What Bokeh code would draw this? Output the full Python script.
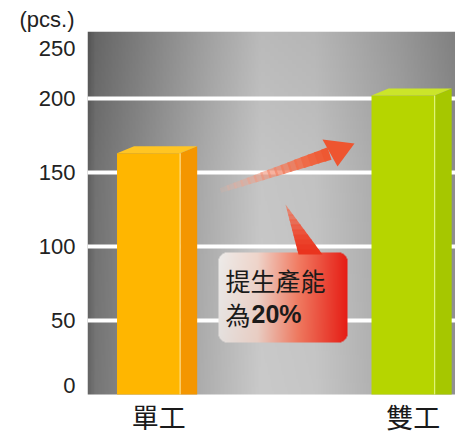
import numpy as np
from bokeh.plotting import figure
from bokeh.models import Range1d, FixedTicker
from bokeh.core.properties import value
from bokeh.embed import file_html
from bokeh.resources import INLINE

# ---- data ----
categories = ["單工", "雙工"]
output_pcs = [163, 202]
y_ticks = [0, 50, 100, 150, 200, 250]
y_tick_labels = ["0", "50", "100", "150", "200", "250"]
unit_label = "(pcs.)"
callout_lines = ["提生產能", "為20%"]

# ---- layout helpers (canvas pixel -> data) ----
CW, CH = 455, 436
FL, FR, FT = 87, 455, 31
ZERO_PY = 394          # pixel row of value 0
PX_PER_UNIT = 1.48
XS, XE = -0.24, 1.206


def X(px):
    return XS + (px - FL) / (FR - FL) * (XE - XS)


def Y(py):
    return (ZERO_PY - py) / PX_PER_UNIT


YS, YE = Y(CH), Y(FT)

p = figure(width=CW, height=CH, x_range=Range1d(XS, XE), y_range=Range1d(YS, YE),
           output_backend="svg", toolbar_location=None,
           min_border_left=FL, min_border_right=0, min_border_top=FT,
           min_border_bottom=0, x_axis_location=None)
p.outline_line_color = None
p.border_fill_color = "white"
p.background_fill_color = "white"

# unit label as title, shifted to the left edge
p.title.text = unit_label
p.title.text_font = "Liberation Sans"
p.title.text_font_size = "22px"
p.title.text_font_style = "normal"
p.title.text_color = "#222222"
p.title.align = "left"
p.title.offset = 19 - FL
p.title.standoff = 0


def rgba_image(r, g, b, a):
    h, w = r.shape
    img = np.empty((h, w), dtype=np.uint32)
    v = img.view(dtype=np.uint8).reshape((h, w, 4))
    v[..., 0] = np.clip(r, 0, 255)
    v[..., 1] = np.clip(g, 0, 255)
    v[..., 2] = np.clip(b, 0, 255)
    v[..., 3] = np.clip(a, 0, 255)
    return img


# background gradient (plot area above the zero line)
H, W = 90, 260
fx = np.linspace(0, 1, W)[None, :].repeat(H, 0)
fy = np.linspace(0, 1, H)[:, None].repeat(W, 1)
base = np.interp(fx, [0, 0.02, 0.05, 0.3, 0.47, 0.62, 0.85, 1.0],
                 [100, 118, 124, 172, 202, 198, 168, 145])
dark = np.interp(fy, [0, 0.6, 1.0], [0, 4, 16])
gval = base - dark
p.image_rgba(image=[rgba_image(gval, gval, gval, np.full_like(gval, 255))],
             x=XS, y=0, dw=XE - XS, dh=YE, level="image")

# grid
p.xgrid.visible = False
p.ygrid.ticker = FixedTicker(ticks=[t for t in y_ticks if 0 < t < 250])
p.ygrid.grid_line_color = "white"
p.ygrid.grid_line_width = 4

# y axis
label_pos = [min(max(t, 6), 234) for t in y_ticks]
p.yaxis.ticker = FixedTicker(ticks=label_pos)
p.yaxis.major_label_overrides = {pos: lab for pos, lab in zip(label_pos, y_tick_labels)}
p.yaxis.major_label_text_font = "Liberation Sans"
p.yaxis.major_label_text_font_size = "22px"
p.yaxis.major_label_text_color = "#222222"
p.yaxis.axis_line_color = None
p.yaxis.major_tick_line_color = None
p.yaxis.minor_tick_line_color = None
p.yaxis.major_tick_out = 0
p.yaxis.major_label_standoff = 12

# bars (3D look)
BW = 0.248
D = 0.067
DY = 4.8
front_cols = ["#ffb600", "#b6d500"]
side_cols = ["#f49600", "#a6c700"]
top_cols = ["#ffc523", "#cbe52a"]
hl_cols = ["#ffe28a", "#e2f57a"]
xs = list(range(len(categories)))
lefts = [i - BW / 2 for i in xs]
rights = [i + BW / 2 for i in xs]
p.quad(left=lefts, right=rights, bottom=0, top=output_pcs, fill_color=front_cols,
       line_color=None)
p.patches(xs=[[r, r + D, r + D, r] for r in rights],
          ys=[[0, 0, v + DY, v] for v in output_pcs],
          fill_color=side_cols, line_color=None)
p.patches(xs=[[l, l + D, r + D, r] for l, r in zip(lefts, rights)],
          ys=[[v, v + DY, v + DY, v] for v in output_pcs],
          fill_color=top_cols, line_color=None)
p.segment(x0=rights, y0=[0] * len(xs), x1=rights, y1=output_pcs, line_color=hl_cols,
          line_width=1.2)

# category labels below the zero line
p.text(x=[i + 0.04 for i in xs], y=[Y(435)] * len(xs), text=categories,
       text_font=value("Noto Sans CJK TC"), text_font_size="27px",
       text_baseline="bottom", text_align="center", text_color="#1a1a1a")

# growth arrow (decoration)
tail = np.array([220.0, 190.0])
hb = np.array([329.0, 153.0])
tip = np.array([354.0, 143.0])
d = hb - tail
u = d / np.linalg.norm(d)
n = np.array([-u[1], u[0]])
N = 16
sx, sy, sc, sa = [], [], [], []
for k in range(N):
    t0, t1 = k / N, (k + 1) / N
    w0, w1 = 2.5 + 4.0 * t0, 2.5 + 4.0 * t1
    a = tail + d * t0
    b = tail + d * min(t1 + 0.02, 1.0)
    pts = [a + n * w0, b + n * w1, b - n * w1, a - n * w0]
    sx.append([X(q[0]) for q in pts])
    sy.append([Y(q[1]) for q in pts])
    c = (1 - t1) * np.array([246, 185, 165]) + t1 * np.array([238, 88, 50])
    sc.append("#%02x%02x%02x" % tuple(int(x) for x in c))
    sa.append(min(1.0, 0.1 + 1.1 * t1))
p.patches(xs=sx, ys=sy, fill_color=sc, fill_alpha=sa, line_color=None)
head = [np.array([322.0, 139.0]), tip, np.array([337.0, 166.0])]
p.patch(x=[X(q[0]) for q in head], y=[Y(q[1]) for q in head], fill_color="#ee5530",
        line_color=None)

# callout box
BL, BR, BT, BB = 218, 347, 252, 342
bw, bh = BR - BL, BB - BT
cx = np.linspace(0, 1, bw)[None, :].repeat(bh, 0)
cy = np.linspace(0, 1, bh)[:, None].repeat(bw, 1)  # 0 bottom, 1 top
stops = [0, 0.3, 0.62, 1.0]
R = np.interp(cx, stops, [228, 232, 238, 230])
G = np.interp(cx, stops, [224, 205, 120, 30])
B = np.interp(cx, stops, [222, 195, 95, 22])
R = R + (1 - cx) * cy * 10
G = G + (1 - cx) * cy * 12
B = B + (1 - cx) * cy * 12
ii = np.arange(bw)[None, :].repeat(bh, 0) + 0.5
jj = np.arange(bh)[:, None].repeat(bw, 1) + 0.5
rad = 9
ccx = np.clip(ii, rad, bw - rad)
ccy = np.clip(jj, rad, bh - rad)
inside = ((ii - ccx) ** 2 + (jj - ccy) ** 2) <= rad ** 2
A = np.where(inside, 255, 0)
p.image_rgba(image=[rgba_image(R, G, B, A)], x=X(BL), y=Y(BB), dw=X(BR) - X(BL),
             dh=Y(BT) - Y(BB), level="glyph")

# callout pointer
ptip = np.array([285.0, 204.0])
b1 = np.array([298.0, 254.0])
b2 = np.array([322.0, 254.0])
M = 10
pxs, pys, pcs, pas = [], [], [], []
for k in range(M):
    t0, t1 = k / M, min((k + 1) / M + 0.02, 1.0)
    pts = [ptip + (b1 - ptip) * t0, ptip + (b1 - ptip) * t1,
           ptip + (b2 - ptip) * t1, ptip + (b2 - ptip) * t0]
    pxs.append([X(q[0]) for q in pts])
    pys.append([Y(q[1]) for q in pts])
    c = (1 - t1) * np.array([240, 125, 95]) + t1 * np.array([234, 52, 30])
    pcs.append("#%02x%02x%02x" % tuple(int(x) for x in c))
    pas.append(min(1.0, 0.6 + 0.6 * t1))
p.patches(xs=pxs, ys=pys, fill_color=pcs, fill_alpha=pas, line_color=None)

# callout text: first line, then second line split into CJK part and bold number
line2_cjk = callout_lines[1][:1]
line2_num = callout_lines[1][1:]
p.text(x=[X(225), X(225)], y=[Y(279), Y(313)], text=[callout_lines[0], line2_cjk],
       text_font=value("Noto Sans CJK TC"), text_font_size="25px",
       text_baseline="middle", text_align="left", text_color="#1a1a1a")
p.text(x=[X(251)], y=[Y(313)], text=[line2_num],
       text_font=value("Liberation Sans"), text_font_size="25px",
       text_font_style="bold", text_baseline="middle", text_align="left",
       text_color="#1a1a1a")

open("out.html", "w").write(file_html(p, INLINE))
